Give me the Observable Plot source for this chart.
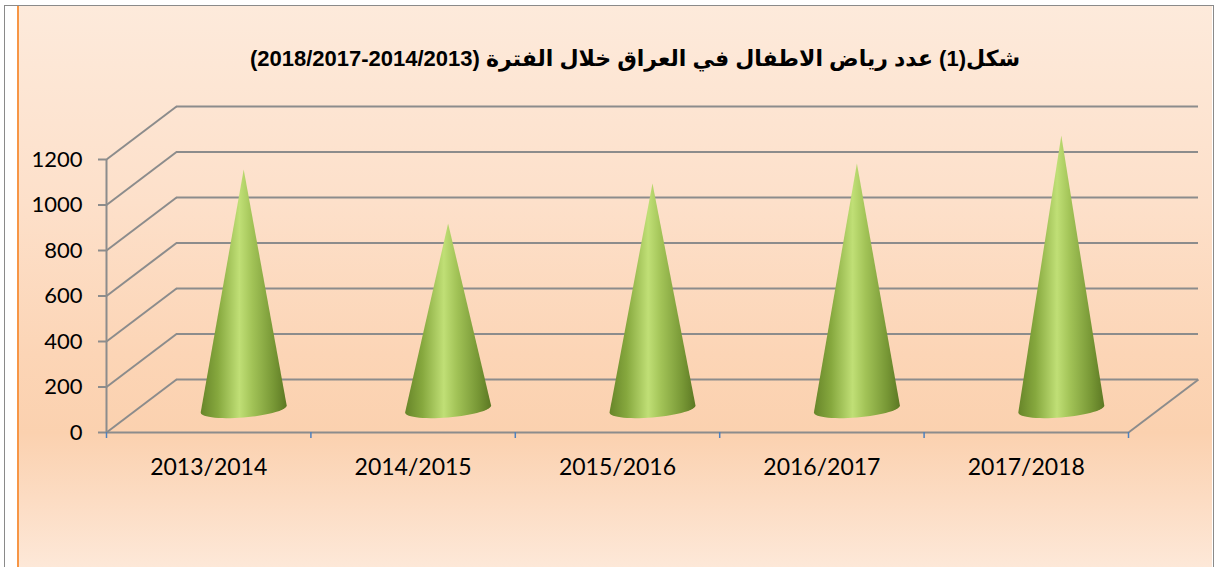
<!DOCTYPE html>
<html><head><meta charset="utf-8">
<script src="https://cdn.jsdelivr.net/npm/d3@7"></script>
<script src="https://cdn.jsdelivr.net/npm/@observablehq/plot@0.6"></script>
<style>
html,body{margin:0;padding:0;background:#fff;width:1215px;height:567px;overflow:hidden}
#frame{position:absolute;left:4px;top:5px;width:1210px;height:580px;border:1.5px solid #8a8a8a;box-sizing:border-box;background:#fff}
#panel{position:absolute;left:17px;top:6px;width:1195px;height:561px;border-left:2px solid #f79646;box-sizing:border-box;
  background:linear-gradient(to bottom,#fdeadb 0%,#fde0ca 35%,#fcd5b6 62%,#fbd1af 76%,#fcdcc3 88%,#fde8d8 100%)}
#title{position:absolute;left:235px;top:46px;width:800px;text-align:center;direction:rtl;
  font-family:"Liberation Sans","DejaVu Sans",sans-serif;font-weight:bold;font-size:22px;color:#000;white-space:nowrap}
#chart{position:absolute;left:0;top:0}
</style></head>
<body>
<div id="frame"></div><div id="panel"></div>
<div id="title"></div>
<div id="chart"></div>
<script>
// ---- data ----
const categories = ["2013/2014", "2014/2015", "2015/2016", "2016/2017", "2017/2018"];
const values = [1040, 802, 978, 1066, 1189];
const yTicks = [0, 200, 400, 600, 800, 1000, 1200];
const titleText = "شكل(1) عدد رياض الاطفال في العراق خلال الفترة (\u20662018/2017-2014/2013\u2069)";

// ---- layout ----
const W = 1215, H = 567, ML = 106, MR = 87, MT = 159, MB = 135;
const kx = (W - ML - MR) / categories.length;  // px per category
const ky = (H - MT - MB) / 1200;               // px per unit
const DX = 70 / kx, DY = 53 / ky;              // 3D depth offset in data units
const xa = -0.5, xb = categories.length - 0.5;
const bounds = d3.range(categories.length + 1).map(i => i - 0.5);

// cone geometry (px)
const R = 43, C0 = 3, T = 3.5, B = 8.5, N = 30;
const coneRows = values.flatMap((v, i) => {
  const cx = i + DX / 2, cy = DY / 2;
  const pts = [{i, x: cx, y: v + cy}];
  for (let k = 0; k <= N; k++) {
    const t = Math.PI - k * Math.PI / N;
    pts.push({i, x: cx + R * Math.cos(t) / kx, y: cy - (C0 - T * Math.cos(t) + B * Math.sin(t)) / ky});
  }
  return pts;
});

document.getElementById("title").textContent = titleText;

const grid = "#8c8c8c";
const chart = Plot.plot({
  width: W, height: H,
  marginLeft: ML, marginRight: MR, marginTop: MT, marginBottom: MB,
  style: {background: "transparent", fontFamily: "Lato, 'Open Sans', sans-serif", overflow: "visible"},
  x: {type: "linear", domain: [xa, xb]},
  y: {type: "linear", domain: [0, 1200]},
  marks: [
    // side-wall diagonals
    Plot.link(yTicks, {x1: () => xa, y1: d => d, x2: () => xa + DX, y2: d => d + DY, stroke: grid, strokeWidth: 2}),
    // back-wall gridlines
    Plot.ruleY(yTicks, {y: d => d + DY, x1: () => xa + DX, x2: () => xb + DX, stroke: grid, strokeWidth: 2}),
    // floor right edge
    Plot.link([0], {x1: () => xb, y1: () => 0, x2: () => xb + DX, y2: () => DY, stroke: grid, strokeWidth: 2}),
    // front vertical axis line
    Plot.ruleX([xa], {y1: 0, y2: 1200, stroke: grid, strokeWidth: 2}),
    // front floor edge (x axis line)
    Plot.ruleY([0], {x1: () => xa, x2: () => xb, stroke: grid, strokeWidth: 2}),
    Plot.axisY(yTicks, {tickSize: 8, tickPadding: 16, stroke: grid, strokeWidth: 2, fill: "#000", fontSize: 22,
      tickFormat: d => String(d), label: null}),
    Plot.axisX(bounds, {tickSize: 6, stroke: "#4f81bd", strokeWidth: 1.5, tickFormat: () => "", label: null}),
    Plot.text(categories, {x: (d, i) => i, y: () => 0, dy: 35, fontSize: 23, fill: "#000", text: d => d}),
    // cones
    Plot.line(coneRows, {x: "x", y: "y", z: "i", fill: "url(#coneGrad)", stroke: "none", curve: "linear"})
  ]
});

d3.select(chart).insert("defs", ":first-child").html(`
  <linearGradient id="coneGrad" x1="0" x2="1" y1="0" y2="0">
    <stop offset="0" stop-color="#678529"/>
    <stop offset="0.2" stop-color="#86a83e"/>
    <stop offset="0.45" stop-color="#c0df76"/>
    <stop offset="0.6" stop-color="#a2c357"/>
    <stop offset="0.85" stop-color="#779735"/>
    <stop offset="1" stop-color="#5c7823"/>
  </linearGradient>`);

document.getElementById("chart").appendChild(chart);
</script>
</body></html>
